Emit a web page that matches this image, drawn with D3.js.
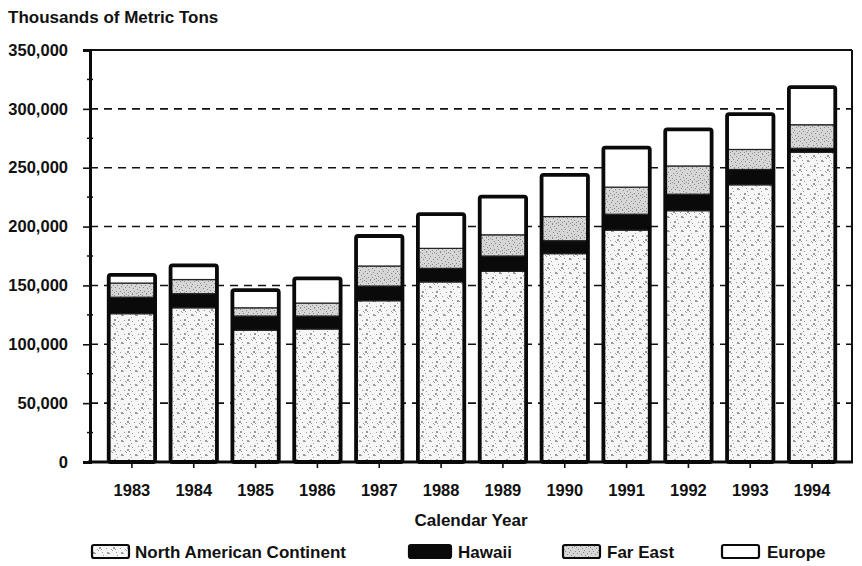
<!DOCTYPE html>
<html>
<head>
<meta charset="utf-8">
<script src="https://cdn.jsdelivr.net/npm/d3@7"></script>
<style>
  html, body { margin: 0; padding: 0; background: #fff; }
  svg text { font-family: "Liberation Sans", Arial, sans-serif; font-weight: bold; fill: #111; }
</style>
</head>
<body>
<svg id="chart" width="862" height="566"></svg>
<script>
// ---- data ----
const years = ["1983","1984","1985","1986","1987","1988","1989","1990","1991","1992","1993","1994"];
const seriesNames = ["North American Continent", "Hawaii", "Far East", "Europe"];
const northAmerica = [126000, 131000, 112000, 113000, 137000, 153000, 162000, 177000, 197000, 213500, 235500, 263000];
const hawaii       = [ 14000,  12000,  12000,  11000,  12500,  11500,  13000,  11000,  13500,  14000,  13000,   3500];
const farEast      = [ 12000,  12000,   7000,  11000,  17000,  17000,  18000,  20500,  23000,  24000,  17000,  20000];
const europe       = [  7000,  12000,  15000,  21000,  25500,  29000,  32500,  35500,  33500,  31000,  30000,  32000];
const yTicks = [0, 50000, 100000, 150000, 200000, 250000, 300000, 350000];

const rows = years.map((y, i) => ({
  year: y,
  "North American Continent": northAmerica[i],
  "Hawaii": hawaii[i],
  "Far East": farEast[i],
  "Europe": europe[i]
}));

const svg = d3.select("#chart");
const pL = 90, pR = 852, pT = 50, pB = 462;

// patterns
const defs = svg.append("defs");
function speckle(id, bg, dotColor, dots) {
  const p = defs.append("pattern").attr("id", id).attr("patternUnits", "userSpaceOnUse")
    .attr("width", 14).attr("height", 14);
  p.append("rect").attr("width", 14).attr("height", 14).attr("fill", bg);
  dots.forEach(d => p.append("rect").attr("x", d[0]).attr("y", d[1]).attr("width", d[2]).attr("height", d[2]).attr("fill", dotColor));
}
speckle("patNA", "#f6f6f6", "#9a9a9a",
  [[1,1,2],[3,3,1],[0,4,1],[8,2,1],[9,6,2],[11,7,1],[5,9,1],[2,11,2],[12,12,1],[6,13,1],[4,6,1],[13,3,1]]);
speckle("patFE", "#d6d6d6", "#8a8a8a",
  [[0,0,1],[2,1,1],[4,3,1],[6,0,1],[8,2,1],[10,4,1],[12,1,1],[1,5,1],[3,7,1],[5,5,1],[7,8,1],[9,6,1],[11,9,1],[13,7,1],[0,10,1],[2,12,1],[4,11,1],[6,13,1],[8,11,1],[10,13,1],[12,12,1]]);

const fills = {
  "North American Continent": "url(#patNA)",
  "Hawaii": "#0a0a0a",
  "Far East": "url(#patFE)",
  "Europe": "#ffffff"
};

const x = d3.scaleBand().domain(years).range([101, 843]).paddingInner(0.25).paddingOuter(0.125);
const y = d3.scaleLinear().domain([0, 350000]).range([pB, pT]);

// title
svg.append("text").attr("x", 8).attr("y", 23).attr("font-size", 17).text("Thousands of Metric Tons");

// grid lines (dashed)
svg.append("g").selectAll("line").data(yTicks.filter(t => t > 0 && t < 350000)).join("line")
  .attr("x1", pL).attr("x2", pR)
  .attr("y1", d => y(d)).attr("y2", d => y(d))
  .attr("stroke", "#111").attr("stroke-width", 1.6).attr("stroke-dasharray", "8,6");

// frame top and right
svg.append("line").attr("x1", pL).attr("x2", pR).attr("y1", pT).attr("y2", pT)
  .attr("stroke", "#111").attr("stroke-width", 2);
svg.append("line").attr("x1", pR).attr("x2", pR).attr("y1", pT).attr("y2", pB)
  .attr("stroke", "#111").attr("stroke-width", 2);

// stacked bars
const stack = d3.stack().keys(seriesNames)(rows);
const gBars = svg.append("g");
stack.forEach(layer => {
  gBars.append("g").selectAll("rect").data(layer).join("rect")
    .attr("x", d => x(d.data.year))
    .attr("width", x.bandwidth())
    .attr("y", d => y(d[1]))
    .attr("height", d => y(d[0]) - y(d[1]))
    .attr("fill", fills[layer.key])
    .attr("stroke", "#222").attr("stroke-width", 1.2);
});
// thick outline around each whole bar
gBars.append("g").selectAll("rect").data(stack[stack.length - 1]).join("rect")
  .attr("x", d => x(d.data.year))
  .attr("width", x.bandwidth())
  .attr("y", d => y(d[1]))
  .attr("height", d => y(0) - y(d[1]))
  .attr("rx", 2)
  .attr("fill", "none").attr("stroke", "#0a0a0a").attr("stroke-width", 3.8);

// y axis
const yAxis = d3.axisLeft(y).tickValues(yTicks).tickSize(7).tickPadding(15)
  .tickFormat(d3.format(","));
const gy = svg.append("g").attr("transform", `translate(${pL},0)`).call(yAxis);
gy.select(".domain").attr("stroke", "#0a0a0a").attr("stroke-width", 3);
gy.selectAll(".tick line").attr("stroke", "#111").attr("stroke-width", 1.6);
gy.selectAll(".tick text").attr("font-size", 16.5).attr("fill", "#111")
  .style("font-family", "'Liberation Sans', Arial, sans-serif").style("font-weight", "bold");
// minor ticks
const minor = d3.range(25000, 350000, 50000);
svg.append("g").selectAll("line").data(minor).join("line")
  .attr("x1", pL - 3).attr("x2", pL + 3)
  .attr("y1", d => y(d)).attr("y2", d => y(d))
  .attr("stroke", "#111").attr("stroke-width", 1.5);

// x axis
const xAxis = d3.axisBottom(x).tickSize(6).tickPadding(16).tickSizeOuter(0);
const gx = svg.append("g").attr("transform", `translate(0,${pB})`).call(xAxis);
gx.select(".domain").attr("d", `M${pL - 2},0H${pR + 1}`).attr("stroke", "#0a0a0a").attr("stroke-width", 3);
gx.selectAll(".tick line").attr("stroke", "#111").attr("stroke-width", 1.6);
gx.selectAll(".tick text").attr("font-size", 16.5).attr("fill", "#111")
  .style("font-family", "'Liberation Sans', Arial, sans-serif").style("font-weight", "bold");

// x title
svg.append("text").attr("x", 471).attr("y", 526).attr("text-anchor", "middle").attr("font-size", 17)
  .text("Calendar Year");

// legend
const swatchX = [92, 409, 563, 722];
const labelX = [135, 458, 607, 767];
const lg = svg.append("g").selectAll("g").data(seriesNames).join("g");
lg.append("rect").attr("x", (d, i) => swatchX[i]).attr("y", 545)
  .attr("width", (d, i) => i === 1 ? 42 : 37).attr("height", 13).attr("rx", 2)
  .attr("fill", d => fills[d]).attr("stroke", "#0a0a0a").attr("stroke-width", 2.2);
lg.append("text").attr("x", (d, i) => labelX[i]).attr("y", 558).attr("font-size", 17).text(d => d);
</script>
</body>
</html>
